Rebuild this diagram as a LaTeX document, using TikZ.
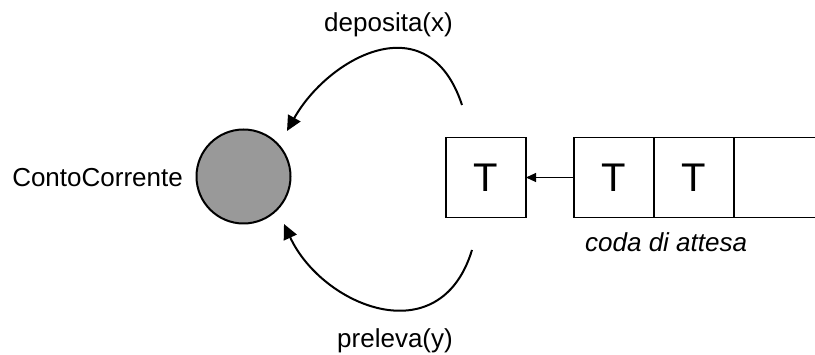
\documentclass[tikz,border=0pt]{standalone}
\usepackage{fontspec}
\setmainfont{Liberation Sans}
\usetikzlibrary{arrows.meta}
\definecolor{accountgray}{RGB}{153,153,153}
\begin{document}
\begin{tikzpicture}[x=1pt,y=-1pt,
  lbl/.style={inner sep=0pt,font=\fontsize{26}{30}\selectfont},
  cell/.style={draw,line width=1.8pt,minimum width=80pt,minimum height=80pt,
    inner sep=0pt,outer sep=0pt,font=\fontsize{40}{44}\selectfont},
  callarc/.style={line width=2pt,-{Triangle[length=15pt,width=14pt]}},
]
\useasboundingbox (0,0) rectangle (815,355);

% the shared account
\node[circle,draw,line width=2pt,fill=accountgray,minimum size=94pt,inner sep=0pt]
  (acct) at (243.5,176.5) {};
\node[lbl,anchor=base east] (acctlbl) at (183,187) {ContoCorrente};

% thread currently served
\node[cell] (cur) at (486,177.5) {T};

% waiting queue
\node[cell] (q1) at (614,177.5) {T};
\node[cell] (q2) at (694,177.5) {T};
\draw[line width=1.8pt] (q2.north east) -- ++(100,0)
  (q2.south east) -- ++(100,0);
\node[lbl,font=\fontsize{26}{30}\selectfont\itshape,anchor=base west]
  (qlbl) at (585,252) {coda di attesa};

\draw[line width=1pt,-{Triangle[length=10pt,width=9pt]}] (q1.west) -- (cur.east);

% operations on the account
\coordinate (depfrom) at (462,105);
\coordinate (depto) at (287,131);
\coordinate (prefrom) at (472,250);
\coordinate (preto) at (284,224);
\draw[callarc] (depfrom) .. controls (428,2) and (328,58) .. (depto);
\draw[callarc] (prefrom) .. controls (440,355) and (322,306) .. (preto);

\node[lbl,anchor=base east] (dep) at (453,32) {deposita(x)};
\node[lbl,anchor=base east] (pre) at (453,348) {preleva(y)};
\end{tikzpicture}
\end{document}
